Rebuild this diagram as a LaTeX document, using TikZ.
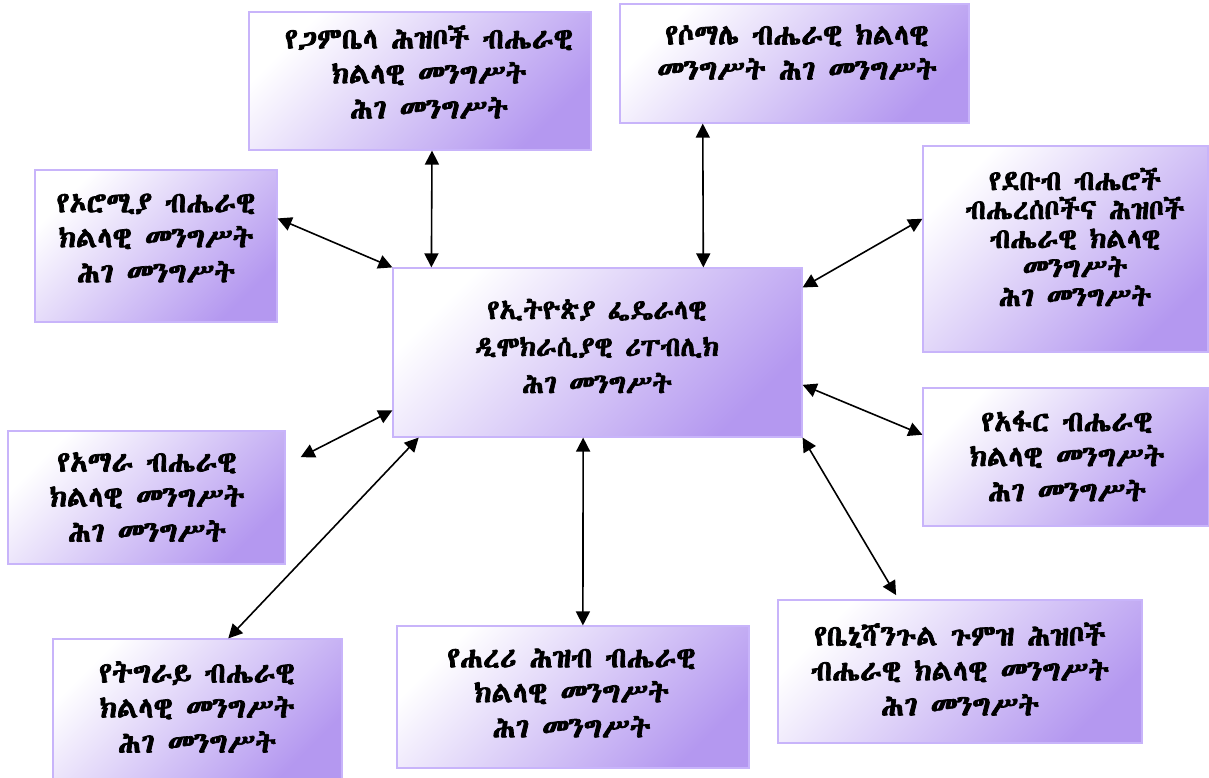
\documentclass[tikz,border=0pt]{standalone}
\usepackage{fontspec}
\usetikzlibrary{calc,arrows.meta}
\newfontfamily\ethfont[FakeBold=2.5]{Abyssinica SIL}
\definecolor{lav}{RGB}{180,152,240}
\definecolor{bord}{RGB}{200,180,250}
\tikzset{
  regbox/.style={rectangle, draw=bord, line width=1.2pt, top color=white, bottom color=lav, shading angle=45, inner sep=0pt},
  regtxt/.style={align=center, font=\ethfont\fontsize{29}{35}\selectfont, inner sep=0pt},
  link/.style={line width=1.6pt, {Triangle[length=14pt,width=14pt]}-{Triangle[length=14pt,width=14pt]}}
}
\begin{document}
\begin{tikzpicture}[x=1pt,y=-1pt]
\useasboundingbox (0,0) rectangle (1209,778);
% boxes
\node[regbox, minimum width=342pt, minimum height=138pt] (gam) at (420,81) {};
\node[regbox, minimum width=349pt, minimum height=119pt] (som) at (794.5,63.5) {};
\node[regbox, minimum width=242pt, minimum height=152pt] (oro) at (156,246) {};
\node[regbox, minimum width=285pt, minimum height=206pt] (snn) at (1065.5,249) {};
\node[regbox, minimum width=409pt, minimum height=169pt] (ctr) at (597.5,352.5) {};
\node[regbox, minimum width=277pt, minimum height=133pt] (amh) at (146.5,497.5) {};
\node[regbox, minimum width=286pt, minimum height=138pt] (afa) at (1066,457) {};
\node[regbox, minimum width=289pt, minimum height=140pt] (tig) at (197.5,709) {};
\node[regbox, minimum width=352pt, minimum height=142pt] (har) at (573,697) {};
\node[regbox, minimum width=364pt, minimum height=143pt] (ben) at (960,671.5) {};
% texts
\node[regtxt] (gamT) at (429,72) {የጋምቤላ ሕዝቦች ብሔራዊ\\ክልላዊ መንግሥት\\ሕገ መንግሥት};
\node[regtxt] (somT) at (797,52) {የሶማሌ ብሔራዊ ክልላዊ\\መንግሥት ሕገ መንግሥት};
\node[regtxt] (oroT) at (156,238) {የኦሮሚያ ብሔራዊ\\ክልላዊ መንግሥት\\ሕገ መንግሥት};
\node[regtxt, font=\ethfont\fontsize{28}{29}\selectfont] (snnT) at (1075,237) {የደቡብ ብሔሮች\\ብሔረሰቦችና ሕዝቦች\\ብሔራዊ ክልላዊ\\መንግሥት\\ሕገ መንግሥት};
\node[regtxt, font=\ethfont\fontsize{27.5}{37}\selectfont] (ctrT) at (597,346) {የኢትዮጵያ ፌዴራላዊ\\ዲሞክራሲያዊ ሪፐብሊክ\\ሕገ መንግሥት};
\node[regtxt] (amhT) at (147,497) {የአማራ ብሔራዊ\\ክልላዊ መንግሥት\\ሕገ መንግሥት};
\node[regtxt] (afaT) at (1067,456) {የአፋር ብሔራዊ\\ክልላዊ መንግሥት\\ሕገ መንግሥት};
\node[regtxt] (tigT) at (197,707) {የትግራይ ብሔራዊ\\ክልላዊ መንግሥት\\ሕገ መንግሥት};
\node[regtxt] (harT) at (571.5,693) {የሐረሪ ሕዝብ ብሔራዊ\\ክልላዊ መንግሥት\\ሕገ መንግሥት};
\node[regtxt] (benT) at (960,669) {የቤኒሻንጉል ጉምዝ ሕዝቦች\\ብሔራዊ ክልላዊ መንግሥት\\ሕገ መንግሥት};
% connectors
\coordinate (amhEnd) at ($(amh.north east)!0.2!(amh.south east)+(15,0)$);
\draw[link] ($(gam.south west)!0.535!(gam.south east)$) -- ($(ctr.north west)!0.095!(ctr.north east)$);
\draw[link] ($(som.south west)!0.238!(som.south east)$) -- ($(ctr.north west)!0.758!(ctr.north east)$);
\draw[link] ($(oro.north east)!0.32!(oro.south east)$) -- (ctr.north west);
\draw[link] ($(ctr.north east)!0.118!(ctr.south east)$) -- ($(snn.north west)!0.354!(snn.south west)$);
\draw[link] ($(ctr.north east)!0.69!(ctr.south east)$) -- ($(afa.north west)!0.34!(afa.south west)$);
\draw[link, shorten >=5pt] (ctr.south east) -- ($(ben.north west)!0.332!(ben.north east)$);
\draw[link] ($(ctr.south west)!0.465!(ctr.south east)$) -- ($(har.north west)!0.528!(har.north east)$);
\draw[link] ($(ctr.south west)!0.064!(ctr.south east)$) -- ($(tig.north west)!0.606!(tig.north east)$);
\draw[link] ($(ctr.north west)!0.84!(ctr.south west)$) -- (amhEnd);
\end{tikzpicture}
\end{document}
